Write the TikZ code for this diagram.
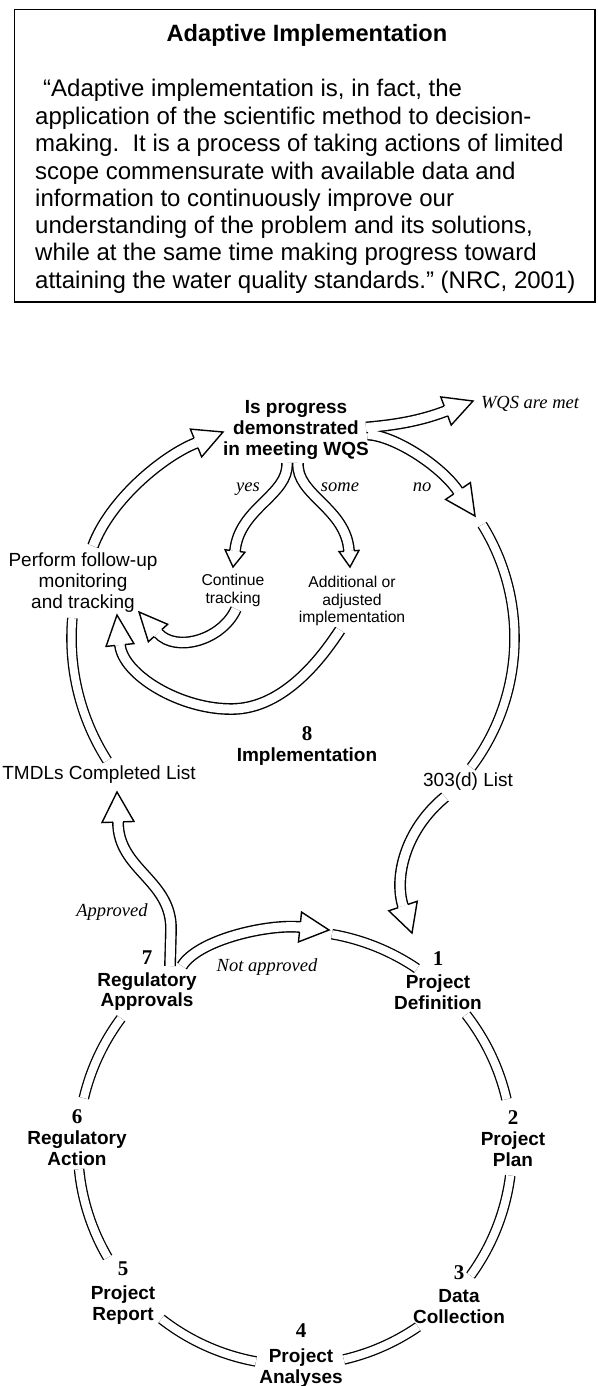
\documentclass[tikz,border=0pt]{standalone}
\usepackage{fontspec}
\setmainfont{Liberation Sans}
\newfontfamily\tmsfont{Liberation Serif}
\usetikzlibrary{calc}
\newcommand\hollowhead[3]{%
  \fill[white] ($(#1)!#3!90:(#2)$) -- (#2) -- ($(#1)!#3!-90:(#2)$) -- cycle;
  \draw[hd] ($(#1)!5.2pt!90:(#2)$) -- ($(#1)!#3!90:(#2)$) -- (#2) -- ($(#1)!#3!-90:(#2)$) -- ($(#1)!5.2pt!-90:(#2)$);
}
\begin{document}
\begin{tikzpicture}[x=1pt,y=-1pt,
  dbl/.style={draw=black,line width=1.4pt,double=white,double distance=9pt},
  cyc/.style={draw=black,line width=1.3pt,double=white,double distance=8pt},
  outr/.style={draw=black,line width=11.8pt},
  innr/.style={draw=white,line width=9pt},
  hd/.style={draw=black,line width=1.4pt,line join=miter},
  txt/.style={inner sep=0pt,anchor=base},
  bodyline/.style={txt,anchor=base west,font=\fontsize{24}{27}\selectfont},
  blab/.style={txt,font=\bfseries\fontsize{19}{21}\selectfont},
  rlab/.style={txt,font=\fontsize{19}{21}\selectfont},
  slab/.style={txt,font=\fontsize{15.7}{17.5}\selectfont},
  numb/.style={txt,font=\tmsfont\bfseries\fontsize{21}{21}\selectfont},
  itl/.style={txt,font=\tmsfont\itshape\fontsize{18.5}{20}\selectfont},
]
\fill[white] (0,0) rectangle (597,1386);
\useasboundingbox (0,0) rectangle (597,1386);

% ---------- quotation box ----------
\draw[line width=1.2pt] (14.5,9.5) rectangle (595,302);
\draw[line width=2.4pt] (14,302) -- (595.5,302);
\draw[line width=2pt] (595,9) -- (595,302);
\node[txt,font=\bfseries\fontsize{23.6}{27}\selectfont] (title) at (307,42) {Adaptive Implementation};
\node[bodyline] (q1) at (43,97) {“Adaptive implementation is, in fact, the};
\node[bodyline] (q2) at (35,124.4) {application of the scientific method to decision-};
\node[bodyline] (q3) at (35,151.7) {making.\ \ It is a process of taking actions of limited};
\node[bodyline] (q4) at (35,179) {scope commensurate with available data and};
\node[bodyline] (q5) at (35,206.3) {information to continuously improve our};
\node[bodyline] (q6) at (35,233.6) {understanding of the problem and its solutions,};
\node[bodyline] (q7) at (35,260.9) {while at the same time making progress toward};
\node[bodyline] (q8) at (35,288.2) {attaining the water quality standards." (NRC, 2001)};

% ---------- lower cycle ----------
\coordinate (C) at (295,1148);
\coordinate (c12s) at ($(C)+(-37.9:217)$);
\coordinate (c23s) at ($(C)+(7.3:217)$);
\coordinate (c34s) at ($(C)+(55.5:217)$);
\coordinate (c45s) at ($(C)+(100.4:217)$);
\coordinate (c56s) at ($(C)+(149.7:217)$);
\coordinate (c67s) at ($(C)+(193.3:217)$);
\coordinate (cna) at ($(C)+(-80.2:217)$);
\draw[cyc] (c12s) arc[start angle=-37.9,end angle=-13,radius=217];
\draw[cyc] (c23s) arc[start angle=7.3,end angle=36,radius=217];
\draw[cyc] (c34s) arc[start angle=55.5,end angle=77,radius=217];
\draw[cyc] (c45s) arc[start angle=100.4,end angle=128,radius=217];
\draw[cyc] (c56s) arc[start angle=149.7,end angle=174.4,radius=217];
\draw[cyc] (c67s) arc[start angle=193.3,end angle=216.7,radius=217];
\draw[cyc] (cna) arc[start angle=-80.2,end angle=-55.8,radius=217];

% ---------- upper loop plain segments ----------
\coordinate (U) at (299.5,638);
\coordinate (noarc) at ($(U)+(-31.8:215)$);
\coordinate (tmarc) at ($(U)+(147.5:228)$);
\draw[cyc] (noarc) arc[start angle=-31.8,end angle=37,radius=215];
\draw[cyc] (tmarc) arc[start angle=147.5,end angle=185,radius=228];

% ---------- Perform follow-up -> Is progress ----------
\coordinate (a1s) at (93,546);
\coordinate (a1b) at (196,443);
\coordinate (a1t) at (223,432);
\draw[dbl] (a1s) .. controls (110,500) and (163,456) .. (a1b);
\hollowhead{a1b}{a1t}{15pt}

% ---------- fork: WQS are met / no ----------
\coordinate (fr1) at (366,427.5);
\coordinate (fr2) at (368,434.5);
\coordinate (wqb) at (446,411);
\coordinate (wqt) at (473,401);
\coordinate (nb) at (458,491);
\coordinate (nt) at (475,516);
\draw[outr] (fr1) .. controls (395,425) and (420,421) .. (wqb);
\draw[outr] (fr2) .. controls (395,436) and (441,466) .. (nb);
\draw[innr] (fr1) .. controls (395,425) and (420,421) .. (wqb);
\draw[innr] (fr2) .. controls (395,436) and (441,466) .. (nb);
\hollowhead{wqb}{wqt}{15pt}
\hollowhead{nb}{nt}{15pt}

% ---------- fork: yes / some ----------
\coordinate (fy1) at (287,463);
\coordinate (fy2) at (298,463);
\coordinate (yb) at (235,551);
\coordinate (yt) at (233,567);
\coordinate (sb) at (349,551);
\coordinate (st) at (350,567);
\draw[outr] (fy1) .. controls (289,495) and (239,508) .. (yb);
\draw[outr] (fy2) .. controls (296,495) and (346,508) .. (sb);
\draw[innr] (fy1) .. controls (289,495) and (239,508) .. (yb);
\draw[innr] (fy2) .. controls (296,495) and (346,508) .. (sb);
\hollowhead{yb}{yt}{10pt}
\hollowhead{sb}{st}{10pt}

% ---------- Continue tracking -> Perform ----------
\coordinate (cs) at (236,609);
\coordinate (cb) at (158,633);
\coordinate (ct) at (139,612);
\draw[dbl] (cs) .. controls (222,640) and (176,653) .. (cb);
\hollowhead{cb}{ct}{13pt}

% ---------- Additional -> Perform ----------
\coordinate (as) at (340,630);
\coordinate (am) at (233,709);
\coordinate (ab) at (120,645);
\coordinate (at) at (117,615);
\draw[dbl] (as) .. controls (323,656) and (285,708) .. (am) .. controls (181,710) and (123,675) .. (ab);
\hollowhead{ab}{at}{14pt}

% ---------- 303(d) List -> 1 ----------
\coordinate (ds) at (445,797);
\coordinate (db) at (403,906);
\coordinate (dt) at (412,933);
\draw[dbl] (ds) .. controls (405,830) and (394,877) .. (db);
\hollowhead{db}{dt}{15pt}

% ---------- fork at 7: Approved / Not approved ----------
\coordinate (ap1) at (170,966);
\coordinate (apm) at (171,930);
\coordinate (apb) at (118,822);
\coordinate (apt) at (117,792);
\coordinate (na1) at (182,966);
\coordinate (nab) at (300,927);
\coordinate (nat) at (329,930);
\draw[outr] (ap1) -- (apm) .. controls (172,880) and (118,870) .. (apb);
\draw[outr] (na1) .. controls (198,940) and (266,924) .. (nab);
\draw[innr] (ap1) -- (apm) .. controls (172,880) and (118,870) .. (apb);
\draw[innr] (na1) .. controls (198,940) and (266,924) .. (nab);
\hollowhead{apb}{apt}{16pt}
\hollowhead{nab}{nat}{15pt}

% ---------- texts ----------
\node[blab] (ip1) at (296,413) {Is progress};
\node[blab] (ip2) at (296,434) {demonstrated};
\node[blab] (ip3) at (296,455) {in meeting WQS};
\node[itl] (wqs) at (530,408) {WQS are met};
\node[itl] (yes) at (248,491) {yes};
\node[itl] (some) at (340,491) {some};
\node[itl] (no) at (422,491) {no};
\node[rlab] (pf1) at (83,566.5) {Perform follow-up};
\node[rlab] (pf2) at (83,587.5) {monitoring};
\node[rlab] (pf3) at (83,608.5) {and tracking};
\node[slab] (ct1) at (233,585.5) {Continue};
\node[slab] (ct2) at (233,603) {tracking};
\node[slab] (ad1) at (352,587.5) {Additional or};
\node[slab] (ad2) at (352,605) {adjusted};
\node[slab] (ad3) at (352,622.5) {implementation};
\node[numb] (n8) at (307,740) {8};
\node[blab] (l8) at (307,761.5) {Implementation};
\node[rlab] (tmdl) at (99,779.5) {TMDLs Completed List};
\node[rlab] (l303) at (468,786.5) {303(d) List};
\node[itl] (appr) at (112,916.5) {Approved};
\node[itl] (nappr) at (267,971) {Not approved};

\node[numb] (n1) at (438,965) {1};
\node[blab] (l1a) at (438,988.5) {Project};
\node[blab] (l1b) at (438,1009.5) {Definition};
\node[numb] (n2) at (513,1124) {2};
\node[blab] (l2a) at (513,1145.5) {Project};
\node[blab] (l2b) at (513,1166.5) {Plan};
\node[numb] (n3) at (459,1279) {3};
\node[blab] (l3a) at (459,1302.5) {Data};
\node[blab] (l3b) at (459,1323.5) {Collection};
\node[numb] (n4) at (301,1337) {4};
\node[blab] (l4a) at (301,1362.5) {Project};
\node[blab] (l4b) at (301,1383.5) {Analyses};
\node[numb] (n5) at (123,1275) {5};
\node[blab] (l5a) at (123,1299.5) {Project};
\node[blab] (l5b) at (123,1320.5) {Report};
\node[numb] (n6) at (77,1123) {6};
\node[blab] (l6a) at (77,1144.5) {Regulatory};
\node[blab] (l6b) at (77,1165.5) {Action};
\node[numb] (n7) at (147,964) {7};
\node[blab] (l7a) at (147,986.5) {Regulatory};
\node[blab] (l7b) at (147,1006.5) {Approvals};
\end{tikzpicture}
\end{document}
